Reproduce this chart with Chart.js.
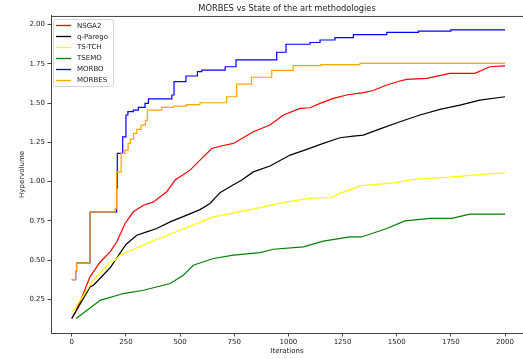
<!DOCTYPE html>
<html>
<head>
<meta charset="utf-8">
<script src="https://cdn.jsdelivr.net/npm/chart.js@4/dist/chart.umd.min.js"></script>
<style>
  html, body { margin: 0; padding: 0; background: #ffffff; overflow: hidden; }
  canvas { display: block; }
</style>
</head>
<body>
<canvas id="c" width="523" height="359"></canvas>
<script>
const chartTitle = 'MORBES vs State of the art methodologies';
const xTitle = 'Iterations';
const yTitle = 'Hypervolume';
const xTicks = [0, 250, 500, 750, 1000, 1250, 1500, 1750, 2000];
const yTicks = [0.25, 0.50, 0.75, 1.00, 1.25, 1.50, 1.75, 2.00];

const seriesNames = ['NSGA2', 'q-Parego', 'TS-TCH', 'TSEMO', 'MORBO', 'MORBES'];
const seriesColors = ['#ff0000', '#000000', '#ffff00', '#008000', '#0000ff', '#ffa500'];

const iterNSGA2 = [0, 20, 41, 84, 131, 177, 208, 246, 284, 331, 377, 438, 477, 546, 592, 646, 684, 746, 838, 915, 977, 1054, 1100, 1146, 1207, 1269, 1346, 1392, 1454, 1515, 1546, 1638, 1746, 1861, 1930, 2000];
const hvNSGA2   = [0.13, 0.18, 0.245, 0.394, 0.489, 0.553, 0.617, 0.734, 0.808, 0.85, 0.871, 0.935, 1.01, 1.073, 1.137, 1.211, 1.225, 1.243, 1.317, 1.36, 1.424, 1.466, 1.47, 1.498, 1.53, 1.551, 1.566, 1.58, 1.615, 1.64, 1.651, 1.657, 1.689, 1.689, 1.731, 1.736];

const iterQParego = [0, 84, 100, 177, 250, 300, 346, 392, 454, 531, 592, 638, 684, 746, 785, 838, 915, 1008, 1085, 1161, 1238, 1300, 1346, 1423, 1515, 1607, 1700, 1792, 1884, 2000];
const hvQParego   = [0.129, 0.33, 0.341, 0.452, 0.6, 0.659, 0.68, 0.702, 0.744, 0.787, 0.822, 0.861, 0.93, 0.98, 1.01, 1.062, 1.099, 1.169, 1.205, 1.243, 1.279, 1.29, 1.296, 1.336, 1.381, 1.424, 1.46, 1.487, 1.519, 1.54];

const iterTSTCH = [0, 7, 100, 177, 200, 223, 346, 500, 654, 869, 992, 1100, 1200, 1238, 1331, 1484, 1577, 1731, 1853, 2000];
const hvTSTCH   = [0.17, 0.18, 0.373, 0.489, 0.5, 0.532, 0.606, 0.691, 0.776, 0.835, 0.871, 0.893, 0.899, 0.925, 0.973, 0.992, 1.014, 1.027, 1.041, 1.056];

const iterTSEMO = [20, 131, 238, 331, 454, 515, 561, 654, 746, 869, 930, 1069, 1161, 1284, 1338, 1454, 1538, 1654, 1754, 1838, 2000];
const hvTSEMO   = [0.129, 0.245, 0.288, 0.309, 0.352, 0.404, 0.468, 0.511, 0.532, 0.548, 0.57, 0.585, 0.621, 0.648, 0.648, 0.702, 0.75, 0.766, 0.766, 0.793, 0.793];

const iterMORBO = [0, 18, 22, 84, 207, 210, 235, 250, 259, 284, 307, 338, 354, 462, 472, 527, 580, 600, 708, 758, 946, 989, 1100, 1146, 1215, 1300, 1454, 1600, 1750, 2000];
const hvMORBO   = [0.377, 0.43, 0.483, 0.806, 0.96, 1.18, 1.285, 1.424, 1.445, 1.455, 1.473, 1.498, 1.527, 1.551, 1.636, 1.672, 1.70, 1.71, 1.731, 1.774, 1.823, 1.874, 1.885, 1.901, 1.916, 1.935, 1.95, 1.958, 1.965, 1.965];

const iterMORBES = [0, 18, 22, 84, 200, 207, 228, 245, 260, 270, 285, 300, 320, 340, 349, 415, 470, 530, 592, 715, 761, 830, 923, 1022, 1150, 1330, 2000];
const hvMORBES   = [0.377, 0.43, 0.483, 0.806, 0.83, 1.062, 1.18, 1.2, 1.243, 1.27, 1.307, 1.332, 1.36, 1.39, 1.455, 1.473, 1.48, 1.49, 1.502, 1.54, 1.62, 1.664, 1.708, 1.738, 1.745, 1.752, 1.752];

const seriesX = [iterNSGA2, iterQParego, iterTSTCH, iterTSEMO, iterMORBO, iterMORBES];
const seriesY = [hvNSGA2, hvQParego, hvTSTCH, hvTSEMO, hvMORBO, hvMORBES];
const seriesStepped = [false, false, false, false, true, true];

const FONT = 'DejaVu Sans';

const datasets = seriesNames.map((name, i) => ({
  label: name,
  data: seriesX[i].map((x, j) => ({ x: x, y: seriesY[i][j] })),
  borderColor: seriesColors[i],
  backgroundColor: seriesColors[i],
  borderWidth: 1.2,
  pointRadius: 0,
  fill: false,
  tension: 0,
  order: seriesNames.length - i,
  stepped: seriesStepped[i] ? 'before' : false
}));

// Spine on top + matplotlib-style legend box drawn inside the plot area
const framePlugin = {
  id: 'framePlugin',
  afterDraw(chart) {
    const ctx = chart.ctx;
    const a = chart.chartArea;
    ctx.save();
    ctx.strokeStyle = '#444';
    ctx.lineWidth = 1;
    ctx.beginPath();
    ctx.moveTo(a.left, a.top + 0.5);
    ctx.lineTo(a.right, a.top + 0.5);
    ctx.stroke();

    // legend
    const fontSize = 7;
    ctx.font = fontSize + 'px "' + FONT + '"';
    const dsets = chart.data.datasets;
    let maxW = 0;
    dsets.forEach(d => { maxW = Math.max(maxW, ctx.measureText(d.label).width); });
    const bx0 = a.left + 2, by0 = a.top + 3;
    const lineX0 = bx0 + 3, lineX1 = lineX0 + 15, textX = lineX1 + 6;
    const rowH = 10.95, firstY = by0 + 6.3;
    const bx1 = textX + maxW + 5;
    const by1 = firstY + rowH * (dsets.length - 1) + 6;
    const rad = 2;
    ctx.fillStyle = 'rgba(255,255,255,0.8)';
    ctx.strokeStyle = '#d4d4d4';
    ctx.lineWidth = 1;
    const x0 = Math.round(bx0) + 0.5, y0 = Math.round(by0) + 0.5, x1 = Math.round(bx1) + 0.5, y1 = Math.round(by1) + 0.5;
    ctx.beginPath();
    ctx.moveTo(x0 + rad, y0);
    ctx.lineTo(x1 - rad, y0);
    ctx.quadraticCurveTo(x1, y0, x1, y0 + rad);
    ctx.lineTo(x1, y1 - rad);
    ctx.quadraticCurveTo(x1, y1, x1 - rad, y1);
    ctx.lineTo(x0 + rad, y1);
    ctx.quadraticCurveTo(x0, y1, x0, y1 - rad);
    ctx.lineTo(x0, y0 + rad);
    ctx.quadraticCurveTo(x0, y0, x0 + rad, y0);
    ctx.closePath();
    ctx.fill();
    ctx.stroke();
    ctx.textBaseline = 'middle';
    ctx.textAlign = 'left';
    dsets.forEach((d, i) => {
      const cy = firstY + rowH * i;
      ctx.strokeStyle = d.borderColor;
      ctx.lineWidth = 1.3;
      ctx.beginPath();
      ctx.moveTo(lineX0, Math.round(cy) + 0.5);
      ctx.lineTo(lineX1, Math.round(cy) + 0.5);
      ctx.stroke();
      ctx.fillStyle = '#222';
      ctx.fillText(d.label, textX, cy + 0.5);
    });
    ctx.restore();
  }
};

new Chart(document.getElementById('c'), {
  type: 'line',
  data: { datasets: datasets },
  options: {
    responsive: false,
    animation: false,
    devicePixelRatio: 1,
    layout: { padding: 0 },
    plugins: {
      title: {
        display: true,
        text: chartTitle,
        fullSize: false,
        color: '#222',
        font: { family: FONT, size: 8.3, weight: 'normal' },
        padding: { top: 4, bottom: 2 }
      },
      legend: { display: false },
      tooltip: { enabled: false }
    },
    scales: {
      x: {
        type: 'linear',
        min: -96,
        max: 2083,
        afterFit: (axis) => { axis.height = 26; },
        afterBuildTicks: (axis) => { axis.ticks = xTicks.map(v => ({ value: v })); },
        grid: { display: true, drawOnChartArea: false, drawTicks: true, tickLength: 3.5, tickColor: '#444' },
        border: { display: true, color: '#444', width: 1 },
        ticks: {
          color: '#222',
          font: { family: FONT, size: 7 },
          padding: 1,
          maxRotation: 0,
          autoSkip: false,
          callback: (v) => String(v)
        },
        title: {
          display: true,
          text: xTitle,
          color: '#222',
          font: { family: FONT, size: 7 },
          padding: { top: 0, bottom: 4 }
        }
      },
      y: {
        type: 'linear',
        min: 0.037,
        max: 2.054,
        afterFit: (axis) => { axis.width = 51; },
        afterBuildTicks: (axis) => { axis.ticks = yTicks.map(v => ({ value: v })); },
        grid: { display: true, drawOnChartArea: false, drawTicks: true, tickLength: 3.5, tickColor: '#444' },
        border: { display: true, color: '#444', width: 1 },
        ticks: {
          color: '#222',
          font: { family: FONT, size: 7 },
          padding: 2.5,
          autoSkip: false,
          callback: (v) => Number(v).toFixed(2)
        },
        title: {
          display: true,
          text: yTitle,
          color: '#222',
          font: { family: FONT, size: 7 },
          padding: { top: 18, bottom: 0 }
        }
      }
    }
  },
  plugins: [framePlugin]
});
</script>
</body>
</html>
